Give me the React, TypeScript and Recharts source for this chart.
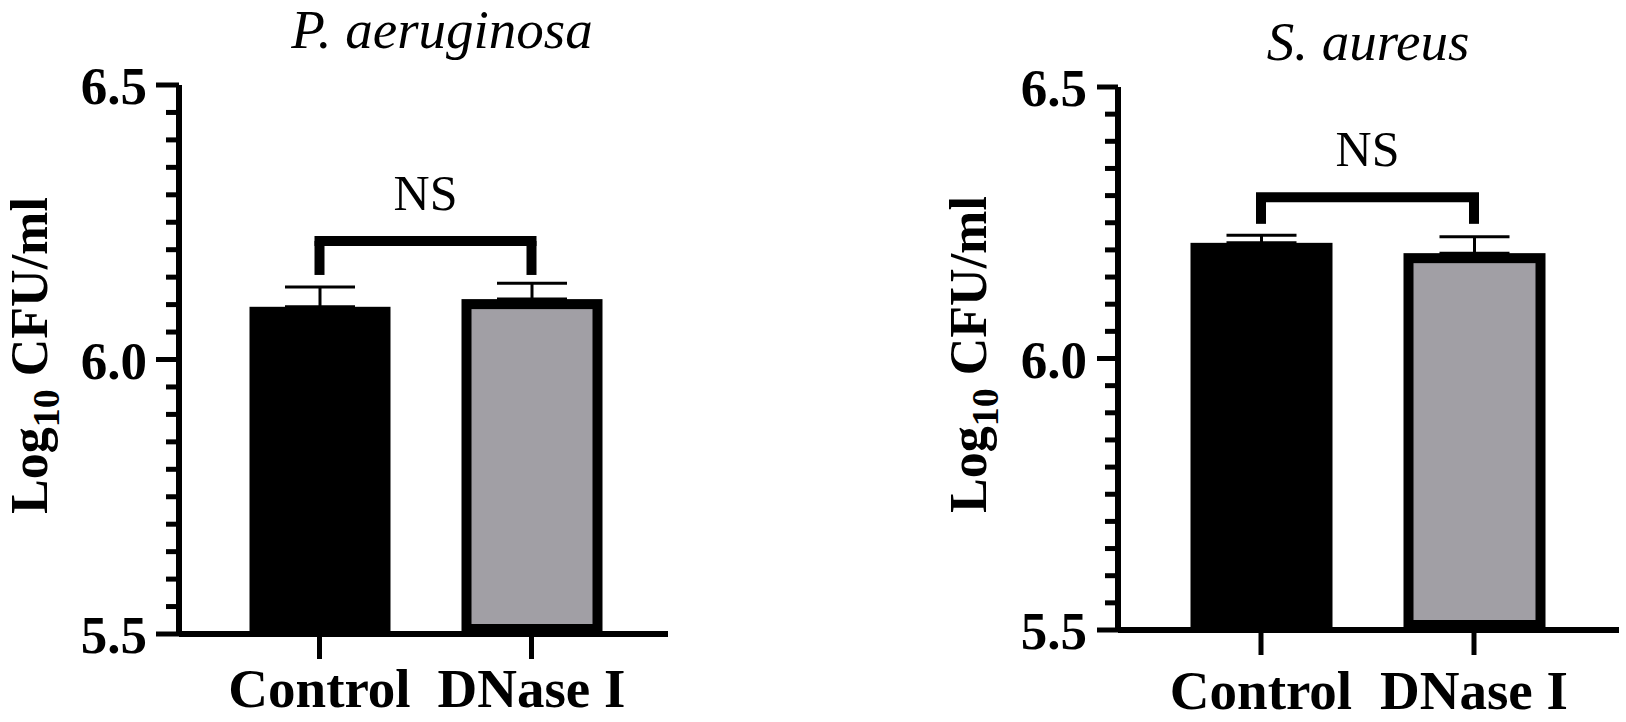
import { BarChart, Bar, XAxis, YAxis, Cell, ErrorBar, ReferenceLine, Label } from 'recharts'

const CATEGORIES = ['Control', 'DNase I']

// P. aeruginosa
const PA_MEANS = [6.096, 6.11]
const PA_SD = [0.036, 0.029]
const PA_BRACKET = [6.216, 6.154] // bracket top, leg end

// S. aureus
const SA_MEANS = [6.213, 6.194]
const SA_SD = [0.014, 0.03]
const SA_BRACKET = [6.297, 6.248]

const Y_TICKS = [
  5.5, 5.55, 5.6, 5.65, 5.7, 5.75, 5.8, 5.85, 5.9, 5.95,
  6.0, 6.05, 6.1, 6.15, 6.2, 6.25, 6.3, 6.35, 6.4, 6.45, 6.5,
]
const MAJOR_TICKS = [5.5, 6.0, 6.5]

const FONT = '"Liberation Serif", "Times New Roman", serif'
const GRAY = '#a19fa5'
const BAR_FILLS = ['#000', GRAY]

const buildData = (means: number[], sds: number[]) =>
  CATEGORIES.map((name, i) => ({ name, mean: means[i], err: [0, sds[i]] }))

const BarShape = (props: any) => {
  const { x, y, width, height, fill } = props
  if (fill === '#000') {
    return <rect x={x} y={y} width={width} height={height} fill="#000" />
  }
  // border drawn inside the bar
  return (
    <rect
      x={x + 5}
      y={y + 5}
      width={width - 10}
      height={height - 10}
      fill={fill}
      stroke="#000"
      strokeWidth={10}
    />
  )
}

const makeYTick = (labelGap: number, majorLen: number) => (props: any) => {
  const { x, y, payload } = props
  const major = MAJOR_TICKS.some((m) => Math.abs(m - payload.value) < 1e-6)
  return (
    <g>
      <line x1={x - (major ? majorLen : 13)} x2={x} y1={y} y2={y} stroke="#000" strokeWidth={5} />
      {major && (
        <text
          x={x - labelGap}
          y={y + 19}
          textAnchor="end"
          fontFamily={FONT}
          fontWeight="bold"
          fontSize={53}
          fill="#000"
        >
          {payload.value.toFixed(1)}
        </text>
      )}
    </g>
  )
}

const makeXTick = (dy: number) => (props: any) => {
  const { x, y, payload } = props
  return (
    <text x={x} y={y + dy} textAnchor="middle" fontFamily={FONT} fontWeight="bold" fontSize={55} fill="#000">
      {payload.value}
    </text>
  )
}

const YLabel = (props: any) => {
  const vb = props.viewBox
  const cx = vb.x + 47
  const cy = vb.y + vb.height / 2 - 4
  return (
    <text
      x={cx}
      y={cy}
      transform={`rotate(-90 ${cx} ${cy})`}
      textAnchor="middle"
      fontFamily={FONT}
      fontWeight="bold"
      fontSize={52}
      fill="#000"
    >
      Log
      <tspan fontSize={38} dy={12}>10</tspan>
      <tspan dy={-12}> CFU/ml</tspan>
    </text>
  )
}

interface PanelProps {
  title: string
  means: number[]
  sds: number[]
  bracket: number[]
  left: number
  width: number
  top: number
  right: number
  xAxisHeight: number
  padding: { left: number; right: number }
  barSize: number
  titleX: number
  titleTop: number
  xLabelDy: number
  yLabelGap: number
  majorLen: number
}

function Panel(p: PanelProps) {
  const data = buildData(p.means, p.sds)
  const [bTop, bLeg] = p.bracket
  return (
    <div style={{ position: 'absolute', left: p.left, top: 0, width: p.width, height: 722 }}>
      <div
        style={{
          position: 'absolute',
          left: p.titleX,
          top: p.titleTop,
          transform: 'translateX(-50%)',
          fontFamily: FONT,
          fontStyle: 'italic',
          fontSize: 55,
          lineHeight: '55px',
          whiteSpace: 'nowrap',
          color: '#000',
        }}
      >
        {p.title}
      </div>
      <BarChart width={p.width} height={722} data={data} margin={{ top: p.top, right: p.right, bottom: 0, left: 0 }}>
        <XAxis
          dataKey="name"
          type="category"
          height={p.xAxisHeight}
          padding={p.padding}
          interval={0}
          axisLine={{ stroke: '#000', strokeWidth: 6 }}
          tickLine={{ stroke: '#000', strokeWidth: 5 }}
          tickSize={25}
          tickMargin={0}
          tick={makeXTick(p.xLabelDy)}
        />
        <YAxis
          type="number"
          domain={[5.5, 6.5]}
          ticks={Y_TICKS}
          interval={0}
          allowDataOverflow
          width={179}
          axisLine={{ stroke: '#000', strokeWidth: 6 }}
          tickLine={false}
          tickSize={0}
          tickMargin={0}
          tick={makeYTick(p.yLabelGap, p.majorLen)}
        >
          <Label content={YLabel} />
        </YAxis>
        <Bar dataKey="mean" barSize={p.barSize} shape={BarShape} isAnimationActive={false}>
          {data.map((d, i) => (
            <Cell key={d.name} fill={BAR_FILLS[i]} />
          ))}
          <ErrorBar dataKey="err" direction="y" width={35} stroke="#000" strokeWidth={3} />
        </Bar>
        <ReferenceLine
          segment={[
            { x: CATEGORIES[0], y: bTop },
            { x: CATEGORIES[1], y: bTop },
          ]}
          stroke="#000"
          strokeWidth={10}
          strokeLinecap="square"
          label={{ value: 'NS', position: 'top', offset: 31, fill: '#000', fontSize: 50, fontFamily: FONT }}
        />
        <ReferenceLine
          segment={[
            { x: CATEGORIES[0], y: bTop },
            { x: CATEGORIES[0], y: bLeg },
          ]}
          stroke="#000"
          strokeWidth={10}
        />
        <ReferenceLine
          segment={[
            { x: CATEGORIES[1], y: bTop },
            { x: CATEGORIES[1], y: bLeg },
          ]}
          stroke="#000"
          strokeWidth={10}
        />
      </BarChart>
    </div>
  )
}

export default function App() {
  return (
    <div style={{ position: 'absolute', left: 0, top: 0, width: 1626, height: 722, background: '#fff' }}>
      <Panel
        title="P. aeruginosa"
        means={PA_MEANS}
        sds={PA_SD}
        bracket={PA_BRACKET}
        left={0}
        width={813}
        top={85}
        right={145}
        xAxisHeight={88}
        padding={{ left: 34.5, right: 30.5 }}
        barSize={141}
        titleX={442}
        titleTop={2}
        xLabelDy={48}
        yLabelGap={32}
        majorLen={23}
      />
      <Panel
        title="S. aureus"
        means={SA_MEANS}
        sds={SA_SD}
        bracket={SA_BRACKET}
        left={939}
        width={687}
        top={87}
        right={7}
        xAxisHeight={92}
        padding={{ left: 36.5, right: 38.5 }}
        barSize={142}
        titleX={429}
        titleTop={14}
        xLabelDy={54}
        yLabelGap={31}
        majorLen={21}
      />
    </div>
  )
}
